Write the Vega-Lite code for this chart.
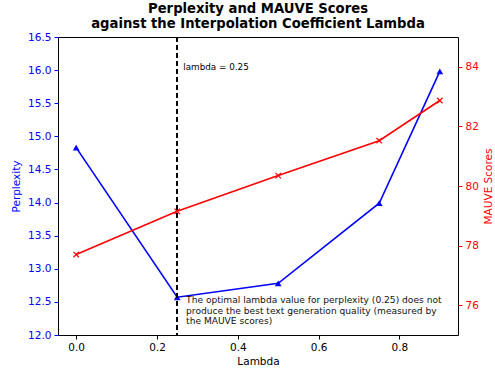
{
  "$schema": "https://vega.github.io/schema/vega-lite/v6.json",
  "width": 400,
  "height": 298,
  "autosize": "none",
  "padding": {"left": 58, "top": 37, "right": 37, "bottom": 36},
  "title": {
    "text": ["Perplexity and MAUVE Scores", "against the Interpolation Coefficient Lambda"],
    "fontSize": 13.2,
    "font": "DejaVu Sans",
    "fontWeight": "bold",
    "color": "black",
    "anchor": "middle",
    "offset": 1,
    "lineHeight": 14.5
  },
  "config": {
    "view": {"stroke": "black", "strokeWidth": 1},
    "font": "DejaVu Sans",
    "axis": {
      "grid": false,
      "labelFont": "DejaVu Sans",
      "titleFont": "DejaVu Sans",
      "labelFontSize": 10.5,
      "titleFontSize": 10.5,
      "titleFontWeight": "normal",
      "tickSize": 4,
      "labelPadding": 3,
      "labelOverlap": false,
      "domain": false,
      "labelColor": "black",
      "tickColor": "black",
      "titleColor": "black"
    }
  },
  "data": {
    "values": [
      {"lambda": 0.0, "perplexity": 14.83, "mauve": 77.70},
      {"lambda": 0.25, "perplexity": 12.57, "mauve": 79.15},
      {"lambda": 0.5, "perplexity": 12.78, "mauve": 80.35},
      {"lambda": 0.75, "perplexity": 13.99, "mauve": 81.52},
      {"lambda": 0.9, "perplexity": 15.98, "mauve": 82.87}
    ]
  },
  "layer": [
    {
      "layer": [
        {
          "mark": {"type": "line", "color": "#0000ff", "strokeWidth": 1.6},
          "encoding": {
            "x": {"field": "lambda", "type": "quantitative", "scale": {"domain": [-0.045, 0.945], "nice": false, "zero": false},
                  "axis": {"values": [0, 0.2, 0.4, 0.6, 0.8], "tickCount": 20, "format": ".1f", "title": "Lambda", "titlePadding": 4, "labelOverlap": false}},
            "y": {"field": "perplexity", "type": "quantitative", "scale": {"domain": [12, 16.5], "nice": false, "zero": false},
                  "axis": {"orient": "left", "title": "Perplexity", "values": [12, 12.5, 13, 13.5, 14, 14.5, 15, 15.5, 16, 16.5], "tickCount": 20, "format": ".1f",
                           "labelOverlap": false, "labelFlush": false, "labelBound": false,
                           "labelColor": "#0000ff", "tickColor": "#0000ff", "titleColor": "#0000ff", "titlePadding": 6}}
          }
        },
        {
          "mark": {"type": "point", "shape": "triangle-up", "filled": true, "color": "#0000ff", "size": 45, "opacity": 1},
          "encoding": {
            "x": {"field": "lambda", "type": "quantitative"},
            "y": {"field": "perplexity", "type": "quantitative"}
          }
        }
      ]
    },
    {
      "layer": [
        {
          "mark": {"type": "line", "color": "#ff0000", "strokeWidth": 1.6},
          "encoding": {
            "x": {"field": "lambda", "type": "quantitative"},
            "y": {"field": "mauve", "type": "quantitative", "scale": {"domain": [75, 85], "nice": false, "zero": false},
                  "axis": {"orient": "right", "title": "MAUVE Scores", "values": [76, 78, 80, 82, 84], "tickCount": 20, "format": "d", "titleAngle": 270, "labelOverlap": false,
                           "labelColor": "#ff0000", "tickColor": "#ff0000", "titleColor": "#ff0000", "titlePadding": 15}}
          }
        },
        {
          "mark": {"type": "point", "shape": "M-1,-1L1,1M-1,1L1,-1", "filled": false, "color": "#ff0000", "size": 30, "strokeWidth": 1.2, "opacity": 1},
          "encoding": {
            "x": {"field": "lambda", "type": "quantitative"},
            "y": {"field": "mauve", "type": "quantitative"}
          }
        },
        {
          "mark": {"type": "rule", "color": "black", "strokeDash": [5, 3], "strokeWidth": 1.5},
          "encoding": {"x": {"datum": 0.25}}
        },
        {
          "data": {"values": [{"lambda": 0.265, "mauve": 84.0, "label": "lambda = 0.25"}]},
          "mark": {"type": "text", "align": "left", "baseline": "middle", "fontSize": 8.8, "color": "black", "font": "DejaVu Sans"},
          "encoding": {
            "x": {"field": "lambda", "type": "quantitative"},
            "y": {"field": "mauve", "type": "quantitative"},
            "text": {"field": "label"}
          }
        },
        {
          "data": {"values": [{"lambda": 0.272, "mauve": 76.17, "label": ["The optimal lambda value for perplexity (0.25) does not", "\u00a0produce the best text generation quality (measured by", "\u00a0the MAUVE scores)"]}]},
          "mark": {"type": "text", "align": "left", "baseline": "middle", "fontSize": 9.1, "lineHeight": 10.5, "color": "#111111", "font": "DejaVu Sans"},
          "encoding": {
            "x": {"field": "lambda", "type": "quantitative"},
            "y": {"field": "mauve", "type": "quantitative"},
            "text": {"field": "label"}
          }
        }
      ]
    }
  ],
  "resolve": {"scale": {"y": "independent"}}
}
